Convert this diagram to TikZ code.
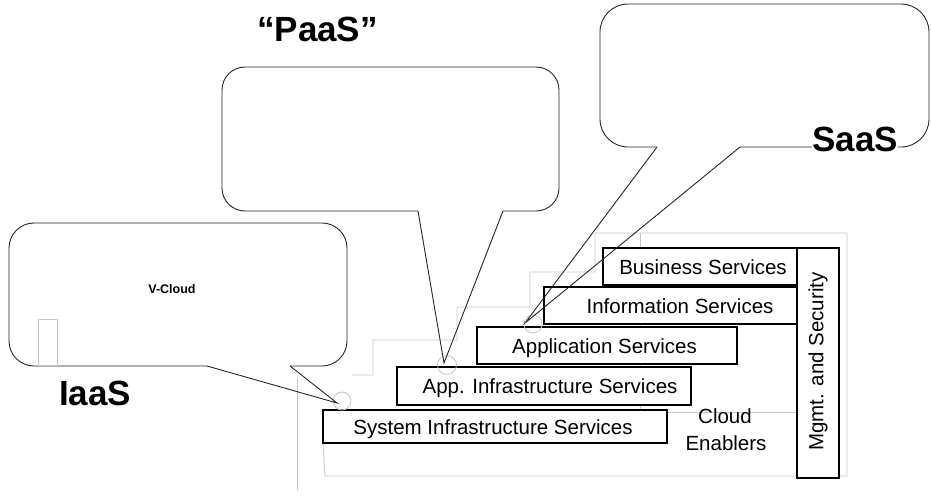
\documentclass[tikz,border=0pt]{standalone}
\usepackage{fontspec}
\setmainfont{Liberation Sans}
\begin{document}
\begin{tikzpicture}[x=1pt,y=-1pt,
  layer/.style={draw=black, line width=1.1pt, fill=white},
  layertext/.style={font=\fontsize{20.5}{24}\selectfont, inner sep=0pt, anchor=base},
  guide/.style={draw=black!22, line width=0.8pt},
  bubble/.style={draw=black!85, line width=0.9pt, line join=miter},
  ring/.style={draw=black!22, line width=0.8pt},
  tag/.style={font=\bfseries\fontsize{35}{40}\selectfont, inner sep=0pt, anchor=base}]
\useasboundingbox (0,0) rectangle (931,495);

% grey guide lines behind the stack
\draw[guide] (352,375) -- (373,375) -- (373,340) -- (457,340) -- (457,307)
  -- (530,307) -- (530,272) -- (595,272) -- (595,233) -- (847,233)
  -- (847,476) -- (325,476) -- (323,443);
\draw[guide] (297,378) -- (297,490);
\draw[guide] (640,233) -- (640,410);
\draw[guide] (667,412) -- (797,412);

% service layers
\draw[layer] (323,410) rectangle (667,443);
\draw[layer] (397,367) rectangle (691,405);
\draw[layer] (477,327) rectangle (737,364);
\draw[layer] (544,287) rectangle (797,324);
\draw[layer] (603,248) rectangle (797,285);
\draw[layer] (797,248) rectangle (839,478);

\node[layertext] (sys) at (493,434) {System Infrastructure Services};
\node[layertext] (appinfra) at (550,393.5) {App. Infrastructure Services};
\node[layertext] (app) at (604.5,353) {Application Services};
\node[layertext] (info) at (680,313) {Information Services};
\node[layertext] (biz) at (703,274) {Business Services};
\node[layertext] (cloud) at (725,423) {Cloud};
\node[layertext] (enablers) at (726,450) {Enablers};
\node[font=\fontsize{20.5}{24}\selectfont, inner sep=0pt, rotate=90] (mgmt) at (818,361.5) {Mgmt. and Security};

% anchor rings where the callouts point
\coordinate (iaasTip) at (337,403);
\coordinate (paasTip) at (444,363);
\coordinate (saasTip) at (525,323);
\draw[ring] (342,401) circle[radius=9];
\draw[ring] (447,365) circle[radius=9.5];
\draw[ring] (533,324) circle[radius=9];

% IaaS callout
\coordinate (iaasA) at (207,366);
\coordinate (iaasB) at (290,366);
\draw[bubble, rounded corners=25pt] (iaasB) -- (347,366) -- (347,223) -- (9,223) -- (9,366) -- (iaasA);
\draw[bubble] (iaasA) -- (iaasTip) -- (iaasB);
\draw[guide] (38,319) rectangle (57,365);
\node[font=\bfseries\fontsize{12.5}{14}\selectfont, inner sep=0pt, anchor=base] (vcloud) at (172,293.5) {V-Cloud};

% PaaS callout
\coordinate (paasA) at (418,211);
\coordinate (paasB) at (503,211);
\draw[bubble, rounded corners=23pt] (paasB) -- (559,211) -- (559,67) -- (222,67) -- (222,211) -- (paasA);
\draw[bubble] (paasA) -- (paasTip) -- (paasB);

% SaaS callout
\coordinate (saasA) at (657,147);
\coordinate (saasB) at (740,147);
\draw[bubble, rounded corners=28pt] (saasB) -- (929,147) -- (929,4) -- (600,4) -- (600,147) -- (saasA);
\draw[bubble] (saasA) -- (saasTip) -- (saasB);

% service model labels
\node[tag] (iaas) at (95,405) {IaaS};
\node[tag] (paas) at (317.5,42) {“PaaS”};
\node[tag, fill=white] (saas) at (855,151) {SaaS};
\end{tikzpicture}
\end{document}
